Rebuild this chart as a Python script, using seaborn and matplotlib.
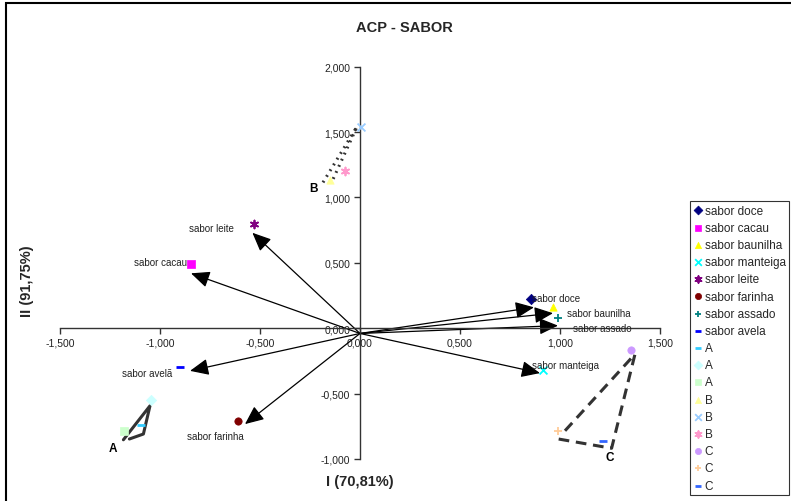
import matplotlib
matplotlib.use("Agg")
import matplotlib.pyplot as plt
from matplotlib.patches import Rectangle
from matplotlib.ticker import FuncFormatter, MultipleLocator
import seaborn as sns
import pandas as pd

sns.set_theme(style="white")
plt.rcParams["font.family"] = ["Liberation Sans", "DejaVu Sans"]

# --- point series (factor scores) ---
series_names = ["sabor doce", "sabor cacau", "sabor baunilha", "sabor manteiga",
                "sabor leite", "sabor farinha", "sabor assado", "sabor avela",
                "A", "A", "A", "B", "B", "B", "C", "C", "C"]
series_x = [0.853, -0.845, 0.967, 0.917, -0.528, -0.608, 0.992, -0.898,
            -1.095, -1.047, -1.178, -0.150, 0.003, -0.075, 1.355, 0.992, 1.213]
series_y = [0.221, 0.494, 0.166, -0.318, 0.799, -0.707, 0.081, -0.300,
            -0.738, -0.547, -0.789, 1.132, 1.537, 1.206, -0.168, -0.789, -0.860]
series_colors = ["#000080", "#FF00FF", "#FFFF00", "#00FFFF", "#800080", "#800000",
                 "#008080", "#0000FF", "#33CCFF", "#CCFFFF", "#CCFFCC", "#FFFF99",
                 "#99CCFF", "#FF99CC", "#CC99FF", "#FFCC99", "#3366FF"]
series_markers = ["D", "s", "^", "x", (6, 2, 0), "o", "+", "_",
                  "_", "D", "s", "^", "x", (6, 2, 0), "o", "+", "_"]

# --- attribute vectors ---
vec_labels = ["sabor doce", "sabor baunilha", "sabor assado", "sabor manteiga",
              "sabor leite", "sabor cacau", "sabor avelã", "sabor farinha"]
vec_x = [0.87, 0.965, 0.99, 0.90, -0.538, -0.845, -0.85, -0.575]
vec_y = [0.16, 0.115, 0.02, -0.343, 0.73, 0.42, -0.326, -0.733]
vec_origin = (0.0, -0.04)
vec_text_x = [0.86, 1.035, 1.065, 0.86, -0.63, -0.864, -0.937, -0.864]
vec_text_y = [0.229, 0.12, 0.0, -0.282, 0.763, 0.509, -0.344, -0.822]
vec_text_ha = ["left", "left", "left", "left", "right", "right", "right", "left"]

# --- group outlines ---
group_A_x = [-1.153, -1.083, -1.050, -1.183]
group_A_y = [-0.847, -0.809, -0.593, -0.853]
group_B_x = [-0.185, -0.015, -0.140]
group_B_y = [1.115, 1.542, 1.122]
group_C_x = [1.025, 1.375, 1.258, 0.992]
group_C_y = [-0.784, -0.198, -0.918, -0.847]
group_labels = ["A", "B", "C"]
group_label_x = [-1.235, -0.23, 1.25]
group_label_y = [-0.916, 1.076, -0.985]

fig = plt.figure(figsize=(7.91, 5.02), dpi=100)
ax = fig.add_axes([60 / 791, 42 / 502, 600 / 791, 392.3 / 502])
ax.set_facecolor("white")

# vectors
for tx, ty, lab, lx, ly, ha in zip(vec_x, vec_y, vec_labels, vec_text_x, vec_text_y, vec_text_ha):
    ax.annotate("", xy=(tx, ty), xytext=vec_origin,
                arrowprops=dict(arrowstyle="-|>,head_length=0.95,head_width=0.42",
                                color="black", lw=0.9, shrinkA=0, shrinkB=0),
                zorder=2)
    ax.text(lx, ly, lab, ha=ha, va="center", fontsize=7, color="#222222", zorder=4)

# group outlines
sns.lineplot(x=group_A_x, y=group_A_y, sort=False, estimator=None, ax=ax,
             color="#333333", lw=2.2, zorder=2)
sns.lineplot(x=group_B_x, y=group_B_y, sort=False, estimator=None, ax=ax,
             color="#333333", lw=2.2, linestyle=(0, (0.6, 1.6)), zorder=2)
sns.lineplot(x=group_C_x, y=group_C_y, sort=False, estimator=None, ax=ax,
             color="#333333", lw=2.2, linestyle=(0, (3.5, 2.2)), zorder=2)
for lab, gx, gy in zip(group_labels, group_label_x, group_label_y):
    ax.text(gx, gy, lab, ha="center", va="center", fontsize=8.5,
            fontweight="bold", color="black")

# points
for name, x, y, c, m in zip(series_names, series_x, series_y, series_colors, series_markers):
    df = pd.DataFrame({"x": [x], "y": [y]})
    lw = 2.0 if m == "_" else 1.3
    if m in ("x", "+", "_", (6, 2, 0)):
        sns.scatterplot(data=df, x="x", y="y", ax=ax, marker=m, color=c, s=32,
                        linewidth=lw, label=name, zorder=3)
    else:
        sns.scatterplot(data=df, x="x", y="y", ax=ax, marker=m, color=c, s=28,
                        edgecolor=c, linewidth=0.5, label=name, zorder=3)

# axes through origin
ax.set_xlim(-1.5, 1.5)
ax.set_ylim(-1.0, 2.0)
for side in ("top", "right"):
    ax.spines[side].set_visible(False)
for side in ("left", "bottom"):
    ax.spines[side].set_position(("data", 0))
    ax.spines[side].set_color("#333333")
    ax.spines[side].set_linewidth(1.0)
ax.xaxis.set_major_locator(MultipleLocator(0.5))
ax.yaxis.set_major_locator(MultipleLocator(0.5))
fmt = FuncFormatter(lambda v, p: f"{v:.3f}".replace(".", ",").replace("−", "-"))
ax.xaxis.set_major_formatter(fmt)
ax.yaxis.set_major_formatter(fmt)
ax.tick_params(axis="both", which="major", direction="out", length=4, width=1,
               color="#333333", labelsize=7.5, labelcolor="#222222", pad=3,
               bottom=True, left=True)
ax.set_xlabel("")
ax.set_ylabel("")

# titles
fig.text(404 / 791, 1 - 28 / 502, "ACP - SABOR", ha="center", va="center",
         fontsize=10.5, fontweight="bold")
fig.text(360 / 791, 1 - 482 / 502, "I (70,81%)", ha="center", va="center",
         fontsize=10.5, fontweight="bold")
fig.text(27 / 791, 1 - 281 / 502, "II (91,75%)", ha="center", va="center",
         fontsize=10.5, fontweight="bold", rotation=90)

# legend
leg = ax.legend(loc="upper left", bbox_to_anchor=(690 / 791, 1 - 202 / 502),
                bbox_transform=fig.transFigure, frameon=True, fancybox=False,
                edgecolor="black", fontsize=8.5, handlelength=0.7, handletextpad=0.25,
                labelspacing=0.44, borderpad=0.3, borderaxespad=0, markerscale=0.85)
leg.get_frame().set_linewidth(0.8)

# chart border
fig.patches.append(Rectangle((5.5 / 791, -0.1), 2.0, (1 - 3.5 / 502) + 0.1,
                             transform=fig.transFigure, fill=False,
                             edgecolor="black", lw=1.5))

fig.savefig("out.png", dpi=100)
